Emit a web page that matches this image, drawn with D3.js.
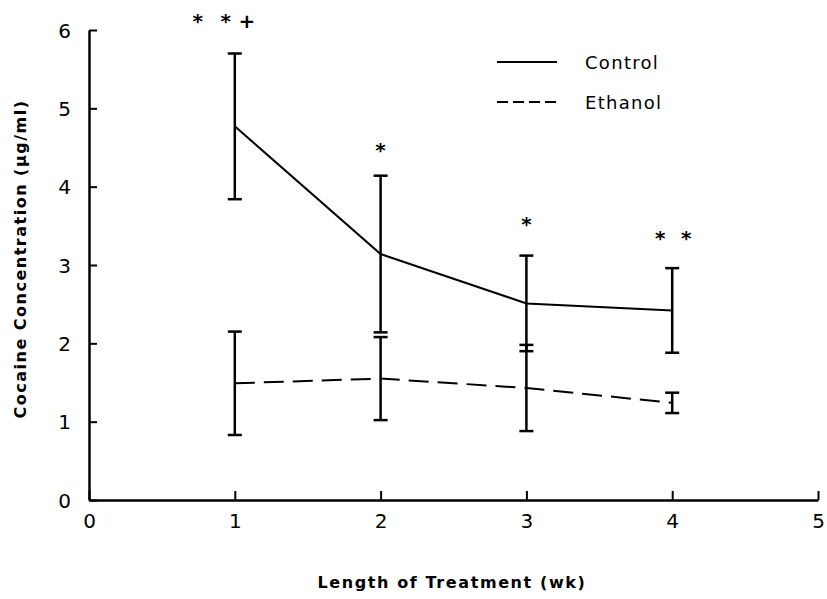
<!DOCTYPE html>
<html><head><meta charset="utf-8">
<script src="https://cdn.jsdelivr.net/npm/d3@7"></script>
<style>body{margin:0;background:#fff}svg{display:block}text{font-family:"DejaVu Sans","Liberation Sans",Arial,sans-serif;fill:#000}</style>
</head><body><svg id="c" width="827" height="599"></svg>
<script>
const weeks = [1, 2, 3, 4];
const controlMean = [4.77, 3.14, 2.51, 2.42];
const controlErr  = [0.93, 1.00, 0.61, 0.54];
const ethanolMean = [1.49, 1.55, 1.43, 1.24];
const ethanolErr  = [0.66, 0.53, 0.55, 0.13];
const xTicks = [0, 1, 2, 3, 4, 5];
const yTicks = [0, 1, 2, 3, 4, 5, 6];
const markWeeks   = [1, 1, 1, 2, 3, 4, 4];
const markSymbols = ["*", "*", "+", "*", "*", "*", "*"];
const markLevels  = [6.03, 6.03, 6.03, 4.38, 3.43, 3.25, 3.25];
const markShift   = [-37, -9, 12, 0, 0, -12, 14];
const seriesNames = ["Control", "Ethanol"];

const svg = d3.select("#c");
const x = d3.scaleLinear().domain([0, 5]).range([89, 818]);
const y = d3.scaleLinear().domain([0, 6]).range([500, 30]);

const xAxis = d3.axisBottom(x).tickValues(xTicks).tickFormat(d3.format("d")).tickSizeInner(-9).tickSizeOuter(0).tickPadding(14);
const yAxis = d3.axisLeft(y).tickValues(yTicks).tickFormat(d3.format("d")).tickSizeInner(-8).tickSizeOuter(0).tickPadding(18);
const gx = svg.append("g").attr("transform", "translate(0,500)").call(xAxis);
const gy = svg.append("g").attr("transform", "translate(89,0)").call(yAxis);
[gx, gy].forEach(g => {
  g.select(".domain").attr("stroke", "#000").attr("stroke-width", 2.5);
  g.selectAll(".tick line").attr("stroke", "#000").attr("stroke-width", 2);
  g.selectAll(".tick text").style("font-size", "20px").style("font-family", "DejaVu Sans, Liberation Sans, Arial, sans-serif").attr("fill", "#000");
});
gy.selectAll(".tick text").attr("dy", "0.36em");

svg.append("text").attr("x", 452).attr("y", 588).attr("text-anchor", "middle")
  .style("font-size", "16px").style("font-weight", "bold").style("letter-spacing", "1.6px").text("Length of Treatment (wk)");
svg.append("text").attr("transform", "translate(26,259) rotate(-90)").attr("text-anchor", "middle")
  .style("font-size", "16px").style("font-weight", "bold").style("letter-spacing", "1.5px").text("Cocaine Concentration (µg/ml)");

const line = d3.line().x((d, i) => x(weeks[i])).y(d => y(d));

svg.append("path").datum(controlMean).attr("d", line).attr("fill", "none").attr("stroke", "#000").attr("stroke-width", 2);
svg.append("path").datum(ethanolMean).attr("d", line).attr("fill", "none").attr("stroke", "#000").attr("stroke-width", 2).attr("stroke-dasharray", "20,9");

function errBars(means, errs) {
  const g = svg.append("g").attr("stroke", "#000").attr("stroke-width", 2.5);
  weeks.forEach((w, i) => {
    const cx = x(w), top = y(means[i] + errs[i]), bot = y(means[i] - errs[i]);
    g.append("line").attr("x1", cx).attr("x2", cx).attr("y1", top).attr("y2", bot);
    g.append("line").attr("x1", cx - 7).attr("x2", cx + 7).attr("y1", top).attr("y2", top);
    g.append("line").attr("x1", cx - 7).attr("x2", cx + 7).attr("y1", bot).attr("y2", bot);
  });
}
errBars(controlMean, controlErr);
errBars(ethanolMean, ethanolErr);

svg.selectAll(".mk").data(markSymbols).enter().append("text")
  .attr("x", (d, i) => x(markWeeks[i]) + markShift[i]).attr("y", (d, i) => y(markLevels[i]))
  .attr("text-anchor", "middle").style("font-size", "20px").style("font-weight", "bold").text(d => d);

const leg = svg.append("g");
seriesNames.forEach((n, i) => {
  const ly = 62 + i * 40;
  leg.append("line").attr("x1", 497).attr("x2", 557).attr("y1", ly).attr("y2", ly)
    .attr("stroke", "#000").attr("stroke-width", 2).attr("stroke-dasharray", i ? "11,5" : null);
  leg.append("text").attr("x", 585).attr("y", ly + 7).style("font-size", "18px").style("letter-spacing", "1.3px").text(n);
});
</script></body></html>
